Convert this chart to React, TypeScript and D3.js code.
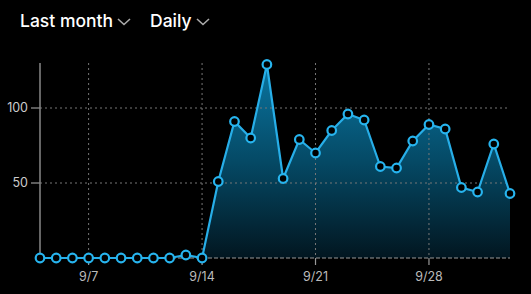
import React from "react";
import * as d3 from "d3";

const days: string[] = [
  "9/4","9/5","9/6","9/7","9/8","9/9","9/10","9/11","9/12","9/13",
  "9/14","9/15","9/16","9/17","9/18","9/19","9/20","9/21","9/22","9/23",
  "9/24","9/25","9/26","9/27","9/28","9/29","9/30","10/1","10/2","10/3",
];
const values: number[] = [
  0,0,0,0,0,0,0,0,0,2,
  0,51,91,80,129,53,79,70,85,96,
  92,61,60,78,89,86,47,44,76,43,
];
const yTicks: number[] = [50, 100];
const xTickLabels: string[] = ["9/7", "9/14", "9/21", "9/28"];
const headerItems: string[] = ["Last month", "Daily"];

const W = 531, H = 294;
const M = { left: 40, right: 21, top: 63, bottom: 36 };

export default function App() {
  const x = d3.scalePoint<string>().domain(days).range([M.left, W - M.right]);
  const y = d3.scaleLinear().domain([0, 130]).range([H - M.bottom, M.top]);
  const data = days.map((d, i) => ({ d, v: values[i] }));
  const line = d3.line<{ d: string; v: number }>().x(p => x(p.d)!).y(p => y(p.v));
  const area = d3.area<{ d: string; v: number }>().x(p => x(p.d)!).y0(y(0)).y1(p => y(p.v));
  const font = "Inter, 'Open Sans', sans-serif";
  const headerX = [20, 150];
  const chevX = [118, 197];
  return (
    <svg width={W} height={H} style={{ position: "absolute", left: 0, top: 0, background: "#000", display: "block" }}>
      <rect x={0} y={0} width={W} height={H} fill="#000" />
      <defs>
        <linearGradient id="ag" x1="0" y1={M.top} x2="0" y2={y(0)} gradientUnits="userSpaceOnUse">
          <stop offset="0" stopColor="#0a76a2" />
          <stop offset="0.5" stopColor="#054a66" />
          <stop offset="1" stopColor="#021620" />
        </linearGradient>
      </defs>
      {headerItems.map((t, i) => (
        <g key={t}>
          <text x={headerX[i]} y={27} fill="#fff" fontFamily={font} fontSize={17.5} fontWeight={500}>{t}</text>
          <path d={`M${chevX[i]},${19} L${chevX[i] + 6},${24.5} L${chevX[i] + 12},${19}`} fill="none" stroke="#aaa" strokeWidth={1.6} />
        </g>
      ))}
      <path d={area(data)!} fill="url(#ag)" />
      {/* horizontal grid */}
      {yTicks.map(t => (
        <g key={t}>
          <line x1={M.left} x2={W - M.right} y1={y(t)} y2={y(t)} stroke="#777" strokeWidth={1} strokeDasharray="2,3" />
          <line x1={31} x2={M.left} y1={y(t)} y2={y(t)} stroke="#999" strokeWidth={1.2} />
          <text x={28} y={y(t)} dy="0.35em" textAnchor="end" fill="#ccc" fontFamily={font} fontSize={12.5}>{t}</text>
        </g>
      ))}
      {/* vertical grid */}
      {xTickLabels.map(t => (
        <g key={t}>
          <line x1={x(t)} x2={x(t)} y1={M.top} y2={y(0)} stroke="#777" strokeWidth={1} strokeDasharray="2,3" />
          <line x1={x(t)} x2={x(t)} y1={y(0)} y2={y(0) + 7} stroke="#999" strokeWidth={1.2} />
          <text x={x(t)} y={281} textAnchor="middle" fill="#bbb" fontFamily={font} fontSize={12.5}>{t}</text>
        </g>
      ))}
      {/* axes */}
      <line x1={M.left} x2={W - M.right} y1={y(0)} y2={y(0)} stroke="#999" strokeWidth={1} strokeDasharray="4,2" />
      <line x1={M.left} x2={M.left} y1={M.top} y2={y(0)} stroke="#888" strokeWidth={1.5} />
      <path d={line(data)!} fill="none" stroke="#27aee8" strokeWidth={2.2} />
      {data.map(p => (
        <circle key={p.d} cx={x(p.d)} cy={y(p.v)} r={4.3} fill="#000" stroke="#27b4ee" strokeWidth={2.2} />
      ))}
    </svg>
  );
}
